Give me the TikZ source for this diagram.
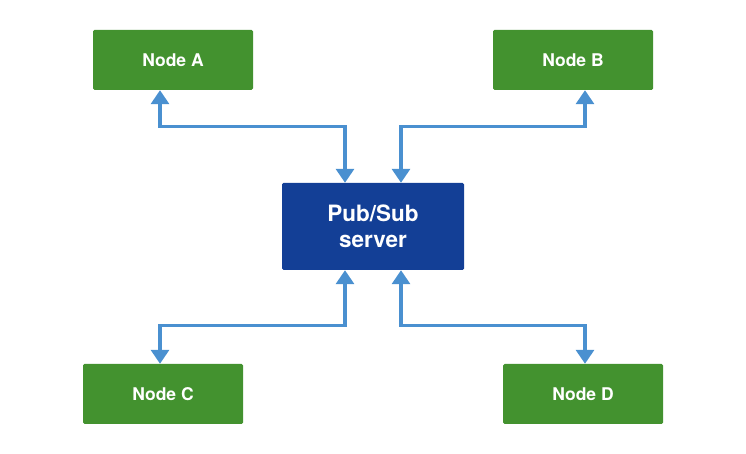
\documentclass[tikz,border=0pt]{standalone}
\usepackage{fontspec}
\setmainfont{TeX Gyre Heros}
\usepackage{xcolor}
\usetikzlibrary{arrows.meta,shapes,positioning,calc}

\definecolor{nodegreen}{HTML}{43922F}
\definecolor{serverblue}{HTML}{133F96}
\definecolor{linkblue}{HTML}{4A90D0}

\tikzset{
	client/.style={shape=rectangle,rounded corners=1.5pt,fill=nodegreen,text=white,minimum width=160pt,minimum height=60pt,font=\fontsize{17.5}{20}\selectfont\bfseries},
	server/.style={shape=rectangle,rounded corners=1.5pt,fill=serverblue,text=white,minimum width=182pt,minimum height=87pt,align=center,font=\fontsize{22.5}{26}\selectfont\bfseries},
	link/.style={draw=linkblue,line width=3.2pt,{Triangle[width=18pt,length=14pt]}-{Triangle[width=18pt,length=14pt]}}
}

\begin{document}
\begin{tikzpicture}[x=1pt,y=1pt]
	\useasboundingbox (0,0) rectangle (746,454);
	\node[client](NA) at (173,394) {Node A};
	\node[client](NB) at (573,394) {Node B};
	\node[server](PS) at (373,227.5) {Pub/Sub\\server};
	\node[client](NC) at (163,60) {Node C};
	\node[client](ND) at (583,60) {Node D};
	\draw[link]([xshift=-13pt]NA.south) -- ++(0,-36) -| ([xshift=-28pt]PS.north);
	\draw[link]([xshift=12pt]NB.south) -- ++(0,-36) -| ([xshift=28pt]PS.north);
	\draw[link]([xshift=-3pt]NC.north) -- ++(0,38) -| ([xshift=-28pt]PS.south);
	\draw[link]([xshift=2pt]ND.north) -- ++(0,38) -| ([xshift=28pt]PS.south);
\end{tikzpicture}
\end{document}
